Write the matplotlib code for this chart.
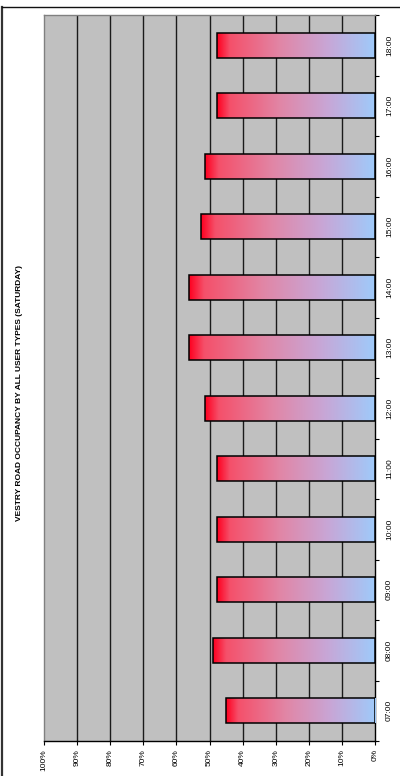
import numpy as np
import matplotlib
matplotlib.use("Agg")
import matplotlib.pyplot as plt
from matplotlib.colors import LinearSegmentedColormap
from matplotlib.lines import Line2D
from matplotlib.patches import Rectangle

# Hourly occupancy (%) on Vestry Road, Saturday
hours = ["07:00", "08:00", "09:00", "10:00", "11:00", "12:00",
         "13:00", "14:00", "15:00", "16:00", "17:00", "18:00"]
occupancy = [45.1, 48.8, 47.6, 47.6, 47.6, 51.3, 56.1, 56.1, 52.5, 51.3, 47.6, 47.6]
pct_ticks = [0, 10, 20, 30, 40, 50, 60, 70, 80, 90, 100]
pct_labels = [f"{p}%" for p in pct_ticks]
title = "VESTRY ROAD OCCUPANCY BY ALL USER TYPES (SATURDAY)"

plt.rcParams["font.family"] = ["Liberation Sans", "DejaVu Sans"]

W, H = 400, 776
fig = plt.figure(figsize=(W / 100, H / 100), dpi=100)
fig.patch.set_facecolor("white")

# plot area in pixel coordinates
left_px, right_px, top_px, bottom_px = 44, 375, 15, 741
ax = fig.add_axes([left_px / W, 1 - bottom_px / H,
                   (right_px - left_px) / W, (bottom_px - top_px) / H])
ax.set_facecolor("#C0C0C0")

# red -> light blue fill
grad = LinearSegmentedColormap.from_list(
    "redblue",
    [(0.0, "#FF0020"), (0.08, "#F5506A"), (0.4, "#E186A6"),
     (0.7, "#C8A6D6"), (1.0, "#9FCAFA")])
strip = np.linspace(0, 1, 256).reshape(1, -1)

bar_h = 0.41
for i, v in enumerate(occupancy):
    ax.imshow(strip, cmap=grad, aspect="auto", interpolation="bilinear",
              extent=[v, 0, i - bar_h / 2, i + bar_h / 2], zorder=3)
    ax.add_patch(Rectangle((0, i - bar_h / 2), v, bar_h, facecolor="none",
                           edgecolor="black", lw=1.1, zorder=4))

ax.set_xlim(100, 0)
ax.set_ylim(-0.5, len(hours) - 0.5)

# vertical gridlines
for p in pct_ticks[1:-1]:
    ax.axvline(p, color="#1a1a1a", lw=1.0, zorder=1)

# bottom value axis
ax.set_xticks(pct_ticks)
ax.set_xticklabels(pct_labels, rotation=90, fontsize=6)
ax.tick_params(axis="x", direction="out", length=3, width=0.8, pad=3,
               colors="black")

# right category axis
ax.yaxis.tick_right()
ax.set_yticks(range(len(hours)))
ax.set_yticklabels(hours, rotation=90, va="center", fontsize=6)
ax.set_yticks(np.arange(-0.5, len(hours), 1.0), minor=True)
ax.tick_params(axis="y", which="major", length=0, pad=8)
ax.tick_params(axis="y", which="minor", direction="out", length=3, width=0.8)

for side in ("top", "left"):
    ax.spines[side].set_color("#808080")
    ax.spines[side].set_linewidth(1.0)
for side in ("bottom", "right"):
    ax.spines[side].set_color("black")
    ax.spines[side].set_linewidth(1.0)

fig.text(20 / W, 1 - 393 / H, title, rotation=90, ha="center", va="center",
         fontsize=6, fontweight="bold")

# chart frame
fig.add_artist(Line2D([2 / W, 2 / W], [0, 1 - 6.5 / H], transform=fig.transFigure,
                      color="#333333", lw=1.6))
fig.add_artist(Line2D([2 / W, 1], [1 - 6.5 / H, 1 - 6.5 / H], transform=fig.transFigure,
                      color="#111111", lw=1.0))

fig.savefig("out.png", dpi=100)
